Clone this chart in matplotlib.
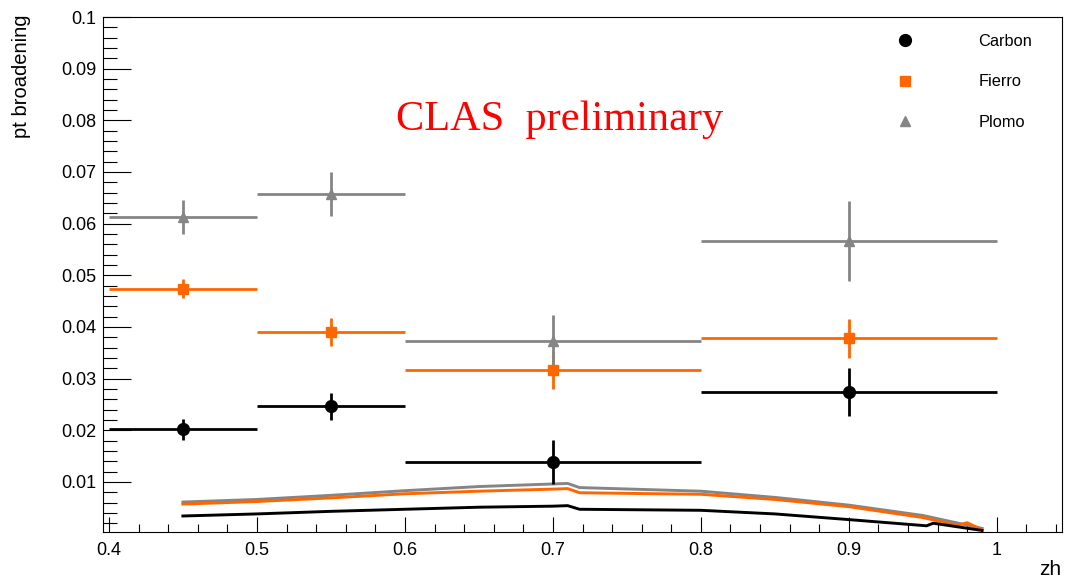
import matplotlib.pyplot as plt
from matplotlib.lines import Line2D
from matplotlib.ticker import MultipleLocator

# zh bins
zh_center = [0.45, 0.55, 0.7, 0.9]
zh_halfwidth = [0.05, 0.05, 0.1, 0.1]

# pt broadening per target
carbon = [0.0202, 0.0246, 0.0138, 0.0274]
carbon_err = [0.0020, 0.0027, 0.0043, 0.0047]
fierro = [0.0474, 0.0390, 0.0316, 0.0378]
fierro_err = [0.0018, 0.0027, 0.0037, 0.0038]
plomo = [0.0612, 0.0657, 0.0373, 0.0566]
plomo_err = [0.0033, 0.0042, 0.0050, 0.0078]

# systematic curves at the bottom
sys_zh_c = [0.45, 0.5, 0.55, 0.6, 0.65, 0.7, 0.71, 0.718, 0.8, 0.85, 0.9, 0.9525, 0.957, 0.99]
sys_c = [0.0034, 0.0038, 0.0043, 0.0047, 0.0051, 0.0053, 0.0054, 0.0047, 0.0045, 0.0038, 0.0027, 0.0015, 0.0020, 0.0006]
sys_zh_fe = [0.45, 0.5, 0.55, 0.6, 0.65, 0.7, 0.71, 0.718, 0.8, 0.85, 0.9, 0.95, 0.973, 0.98, 0.99]
sys_fe = [0.0057, 0.0062, 0.0069, 0.0077, 0.0082, 0.0086, 0.0087, 0.0079, 0.0076, 0.0066, 0.0052, 0.0031, 0.0016, 0.0021, 0.0007]
sys_zh_pb = [0.45, 0.5, 0.55, 0.6, 0.65, 0.7, 0.71, 0.718, 0.8, 0.85, 0.9, 0.95, 0.99]
sys_pb = [0.0061, 0.0066, 0.0074, 0.0083, 0.0091, 0.0096, 0.0097, 0.0089, 0.0082, 0.0070, 0.0055, 0.0035, 0.0010]

labels = ['Carbon', 'Fierro', 'Plomo']

plt.rcParams['font.family'] = ['Liberation Sans', 'DejaVu Sans']

orange = '#ff6600'
grey = '#858585'

fig = plt.figure(figsize=(10.65, 5.82), dpi=100)
ax = fig.add_axes([103 / 1065, 1 - 532 / 582, (1062 - 103) / 1065, (532 - 17) / 582])

ax.plot(sys_zh_pb, sys_pb, color=grey, lw=2.1)
ax.plot(sys_zh_fe, sys_fe, color=orange, lw=2.1)
ax.plot(sys_zh_c, sys_c, color='black', lw=2.1)

ax.errorbar(zh_center, carbon, xerr=zh_halfwidth, yerr=carbon_err, fmt='o',
            color='black', ms=8.5, elinewidth=2, capsize=0)
ax.errorbar(zh_center, fierro, xerr=zh_halfwidth, yerr=fierro_err, fmt='s',
            color=orange, ms=7.5, elinewidth=2, capsize=0)
ax.errorbar(zh_center, plomo, xerr=zh_halfwidth, yerr=plomo_err, fmt='^',
            color=grey, ms=7.5, elinewidth=2, capsize=0)

ax.set_xlim(0.396, 1.044)
ax.set_ylim(0.0003, 0.1)

ax.xaxis.set_minor_locator(MultipleLocator(0.02))
ax.yaxis.set_minor_locator(MultipleLocator(0.002))
ax.set_xticks([0.4, 0.5, 0.6, 0.7, 0.8, 0.9, 1.0])
ax.set_xticklabels(['0.4', '0.5', '0.6', '0.7', '0.8', '0.9', '1'])
ax.set_yticks([0.01 * i for i in range(1, 11)])
ax.set_yticklabels(['0.01', '0.02', '0.03', '0.04', '0.05', '0.06', '0.07', '0.08', '0.09', '0.1'])

ax.tick_params(axis='both', which='both', direction='in', width=0.8, labelsize=13,
               top=False, right=False)
ax.tick_params(axis='x', which='major', length=11, pad=7)
ax.tick_params(axis='x', which='minor', length=5.5)
ax.tick_params(axis='y', which='major', length=20, pad=5)
ax.tick_params(axis='y', which='minor', length=10)
for s in ax.spines.values():
    s.set_linewidth(0.8)

fig.text(22 / 1065, 1 - 15 / 582, 'pt broadening', rotation=90, ha='center', va='top', fontsize=14.5)
fig.text(1061 / 1065, 1 - 579 / 582, 'zh', ha='right', va='bottom', fontsize=15)

ax.text(0.7047, 0.0782, 'CLAS  preliminary', color='red', fontsize=30.5,
        family='Liberation Serif', ha='center', va='baseline')

handles = [
    Line2D([], [], color='black', marker='o', ls='none', ms=8.5),
    Line2D([], [], color=orange, marker='s', ls='none', ms=7.5),
    Line2D([], [], color=grey, marker='^', ls='none', ms=7.5),
]
ax.legend(handles, labels, loc='upper left', bbox_to_anchor=(889 / 1065, 1 - 34 / 582),
          bbox_transform=fig.transFigure, frameon=False, fontsize=11.8,
          handlelength=2, handletextpad=3.45, labelspacing=1.55, borderpad=0, borderaxespad=0)

fig.savefig('out.png', dpi=100)
